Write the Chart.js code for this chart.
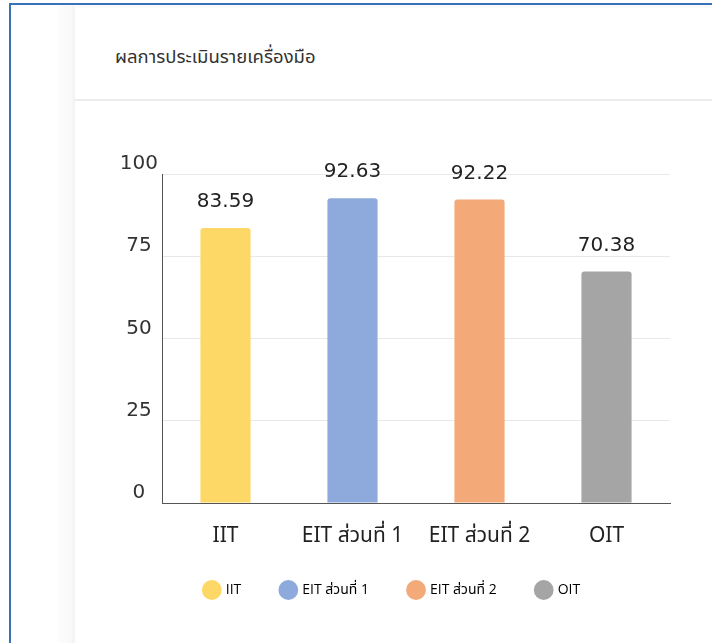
<!DOCTYPE html>
<html>
<head>
<meta charset="utf-8">
<script src="https://cdn.jsdelivr.net/npm/chart.js@4.4.1/dist/chart.umd.min.js"></script>
<style>
  html, body { margin: 0; padding: 0; width: 712px; height: 643px; background: #fff; overflow: hidden; font-family: "Noto Sans", "Noto Sans Thai", sans-serif; }
  #frame { position: absolute; left: 9px; top: 3px; width: 720px; height: 660px; border-left: 2px solid #3a72b8; border-top: 2px solid #3a72b8; }
  #band { position: absolute; left: 57px; top: 5px; width: 18px; height: 640px; background: linear-gradient(to right, #fdfdfd, #f7f7f7); }
  #card { position: absolute; left: 75px; top: 8px; width: 660px; height: 660px; background: #fff; box-shadow: 0 -2px 6px rgba(0,0,0,0.04); }
  #header { position: absolute; left: 0; top: 0; width: 660px; height: 91px; border-bottom: 2px solid #ececec; }
  #title { position: absolute; left: 40px; top: 35px; font-size: 18.5px; color: #333; font-family: "Noto Sans Thai", "Noto Sans", sans-serif; }
  #wrap { position: absolute; left: 75px; top: 101px; width: 637px; height: 542px; }
</style>
</head>
<body>
<div id="frame"></div>
<div id="band"></div>
<div id="card"><div id="header"><div id="title">ผลการประเมินรายเครื่องมือ</div></div></div>
<div id="wrap"><canvas id="c" width="637" height="542"></canvas></div>
<script>
const categories = ["IIT", "EIT ส่วนที่ 1", "EIT ส่วนที่ 2", "OIT"];
const values = [83.59, 92.63, 92.22, 70.38];
const barColors = ["#fdd866", "#8eaadc", "#f4aa78", "#a5a5a5"];
const yTicks = [0, 25, 50, 75, 100];

const numFont = '"DejaVu Sans", sans-serif';
const thaiFont = '"Noto Sans", "Noto Sans Thai", sans-serif';

const valueLabels = {
  id: 'valueLabels',
  afterDatasetsDraw(chart) {
    const ctx = chart.ctx;
    const meta = chart.getDatasetMeta(0);
    ctx.save();
    ctx.font = '20px ' + numFont;
    ctx.fillStyle = '#222';
    ctx.textAlign = 'center';
    ctx.textBaseline = 'middle';
    meta.data.forEach((bar, i) => {
      ctx.fillText(values[i].toFixed(2), bar.x, bar.y - 26);
    });
    ctx.restore();
  }
};

new Chart(document.getElementById('c'), {
  type: 'bar',
  data: {
    labels: categories,
    datasets: [{
      data: values,
      backgroundColor: barColors,
      borderRadius: { topLeft: 3, topRight: 3 },
      borderSkipped: 'bottom',
      barPercentage: 0.5,
      categoryPercentage: 0.79
    }]
  },
  options: {
    responsive: false,
    animation: false,
    layout: { padding: { left: 40, right: 42, top: 73, bottom: 36 } },
    plugins: {
      legend: {
        display: true,
        position: 'bottom',
        labels: {
          usePointStyle: true,
          pointStyle: 'circle',
          boxWidth: 14,
          boxHeight: 14,
          padding: 40,
          color: '#777',
          font: { size: 14, family: '"Open Sans", "Noto Sans Thai", sans-serif' },
          generateLabels(chart) {
            return categories.map((c, i) => ({
              text: c, fillStyle: barColors[i], strokeStyle: barColors[i],
              lineWidth: 0, pointStyle: 'circle', hidden: false, index: i
            }));
          }
        }
      },
      tooltip: { enabled: false }
    },
    scales: {
      x: {
        grid: { display: false, drawTicks: false },
        border: { display: true, color: '#555', width: 1 },
        ticks: { color: '#222', padding: 20, font: { size: 21, family: thaiFont } },
        afterFit(s) { s.height = 40; }
      },
      y: {
        min: 0, max: 100,
        afterBuildTicks(s) { s.ticks = yTicks.map(v => ({ value: v })); },
        grid: { color: '#e8e8e8', drawTicks: false },
        border: { display: true, color: '#555', width: 1 },
        ticks: { color: '#333', padding: 4, crossAlign: 'center', labelOffset: -10, font: { size: 20, family: numFont } },
        afterFit(s) { s.width = 47; }
      }
    }
  },
  plugins: [valueLabels]
});
</script>
</body>
</html>
